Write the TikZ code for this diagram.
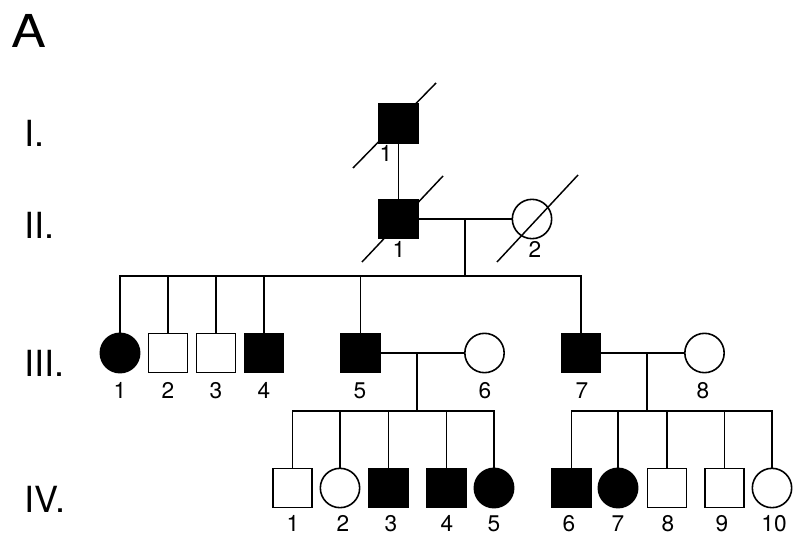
\documentclass[tikz,border=0pt]{standalone}
\usepackage{fontspec}
\setmainfont{TeX Gyre Heros}
\begin{document}
\begin{tikzpicture}[x=0.75pt,y=-0.75pt,
  sq/.style={draw, line width=1.2pt, minimum size=29pt, inner sep=0pt, outer sep=0pt},
  ci/.style={draw, circle, line width=1.2pt, minimum size=29.5pt, inner sep=0pt, outer sep=0pt},
  aff/.style={fill=black},
  una/.style={fill=white},
  num/.style={font=\fontsize{17}{17}\selectfont, anchor=base, inner sep=0pt},
  gen/.style={font=\fontsize{27}{27}\selectfont, anchor=base west, inner sep=0pt},
  rel/.style={line width=1.2pt},
  dec/.style={line width=1.1pt}]
\useasboundingbox (0,0) rectangle (800,545);

% panel letter and generation labels
\node[font=\fontsize{34}{34}\selectfont, anchor=base west, inner sep=0pt] (panel) at (11,48) {\scalebox{1.15}[1]{A}};
\node[gen] (gI) at (24,147) {I.};
\node[gen] (gII) at (24,239) {II.};
\node[gen] (gIII) at (24,377) {III.};
\node[gen] (gIV) at (24,512) {IV.};

% generation I and II
\node[sq,aff] (I1) at (398.5,123.5) {};
\node[sq,aff] (II1) at (398.5,219) {};
\node[ci,una] (II2) at (532,219) {};

% generation III
\node[ci,aff] (III1) at (120,353) {};
\node[sq,una] (III2) at (168,353) {};
\node[sq,una] (III3) at (216,353) {};
\node[sq,aff] (III4) at (264,353) {};
\node[sq,aff] (III5) at (360.5,353) {};
\node[ci,una] (III6) at (484.5,353) {};
\node[sq,aff] (III7) at (581,353) {};
\node[ci,una] (III8) at (704.5,353) {};

% generation IV
\node[sq,una] (IV1) at (292.5,488) {};
\node[ci,una] (IV2) at (340,488) {};
\node[sq,aff] (IV3) at (388.5,488) {};
\node[sq,aff] (IV4) at (446.5,488) {};
\node[ci,aff] (IV5) at (494,488) {};
\node[sq,aff] (IV6) at (571.5,488) {};
\node[ci,aff] (IV7) at (618,488) {};
\node[sq,una] (IV8) at (667,488) {};
\node[sq,una] (IV9) at (724.5,488) {};
\node[ci,una] (IV10) at (772,488) {};

% deceased slashes
\draw[dec] ([shift={(-45.5,44.5)}]I1.center) -- ([shift={(37.5,-40.5)}]I1.center);
\draw[dec] ([shift={(-36.5,43)}]II1.center) -- ([shift={(44.5,-43)}]II1.center);
\draw[dec] ([shift={(-35,43)}]II2.center) -- ([shift={(46,-44)}]II2.center);

% individual numbers
\node[num] (nI1) at (386,162) {1};
\node[num] (nII1) at (399,258) {1};
\node[num] (nII2) at (535,258) {2};
\foreach \n/\x in {1/120,2/168,3/216,4/264,5/360,6/485,7/582,8/703}
  \node[num] (nIII\n) at (\x,398) {\n};
\foreach \n/\x in {1/293,2/343,3/391,4/447,5/494,6/569,7/618,8/668,9/722,10/774}
  \node[num] (nIV\n) at (\x,531) {\n};

% relationship lines
\coordinate (m2) at (465,219);
\coordinate (s3) at (465,276);
\coordinate (m35) at (417,353);
\coordinate (s4a) at (417,411);
\coordinate (m37) at (647,353);
\coordinate (s4b) at (647,411);

\draw[rel] (I1.south) -- (II1.north);
\draw[rel] (II1.east) -- (II2.west);
\draw[rel] (m2) -- (s3);
\draw[rel] (III1.north) -- (III1.north |- s3) -- (III7.north |- s3) -- (III7.north);
\foreach \k in {2,3,4,5}
  \draw[rel] (III\k.north) -- (III\k.north |- s3);

\draw[rel] (III5.east) -- (III6.west);
\draw[rel] (m35) -- (s4a);
\draw[rel] (IV1.north) -- (IV1.north |- s4a) -- (IV5.north |- s4a) -- (IV5.north);
\foreach \k in {2,3,4}
  \draw[rel] (IV\k.north) -- (IV\k.north |- s4a);

\draw[rel] (III7.east) -- (III8.west);
\draw[rel] (m37) -- (s4b);
\draw[rel] (IV6.north) -- (IV6.north |- s4b) -- (IV10.north |- s4b) -- (IV10.north);
\foreach \k in {7,8,9}
  \draw[rel] (IV\k.north) -- (IV\k.north |- s4b);
\end{tikzpicture}
\end{document}
